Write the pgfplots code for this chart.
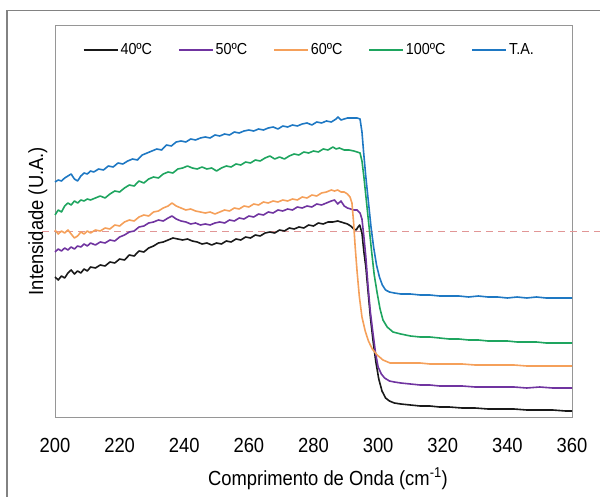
\documentclass[border=0pt]{standalone}
\usepackage{fontspec}
\setmainfont{Liberation Sans}[FakeStretch=0.9]
\usepackage{pgfplots}
\pgfplotsset{compat=1.18}
\definecolor{axgray}{RGB}{150,150,150}
\definecolor{framegray}{RGB}{130,130,130}
\definecolor{cblack}{RGB}{25,25,25}
\definecolor{cpurple}{RGB}{112,52,160}
\definecolor{corange}{RGB}{245,160,90}
\definecolor{cgreen}{RGB}{30,165,95}
\definecolor{cblue}{RGB}{30,120,195}
\definecolor{dashc}{RGB}{225,150,150}
\begin{document}
\begin{tikzpicture}
\useasboundingbox (0,0) rectangle (600bp,497bp);
\draw[framegray, line width=1.5bp] (7bp,0bp) -- (7bp,486.5bp) -- (600bp,486.5bp);
\begin{axis}[
  at={(55bp,80bp)}, anchor=south west,
  scale only axis, width=517bp, height=391bp,
  xmin=200, xmax=360, ymin=0, ymax=391,
  xtick={200,220,...,360}, ytick=\empty,
  major tick length=0pt,
  axis line style={draw=axgray, line width=1bp},
  clip=false,
  xticklabel style={font=\fontsize{20.5}{24}\selectfont, inner sep=0pt, anchor=north, yshift=-21bp},
  /pgf/number format/assume math mode=true,
  xlabel={Comprimento de Onda (cm\textsuperscript{-1})},
  xlabel style={font=\fontsize{20.5}{24}\selectfont, at={(axis description cs:0.528,-0.174)}, anchor=base, inner sep=0pt},
  ylabel={Intensidade (U.A.)},
  ylabel style={font=\fontsize{20.5}{24}\selectfont, at={(axis description cs:-0.0232,0.501)}, anchor=base, rotate=0, inner sep=0pt},
  legend columns=5,
  legend cell align=left,
  legend style={draw=none, fill=none, at={(axis description cs:0.492,0.9386)}, anchor=center,
    font=\fontsize{16}{19}\selectfont, inner sep=0pt,
    /tikz/every even column/.append style={column sep=24bp}},
  legend image code/.code={\draw[#1, line width=1.6bp] (0bp,0bp) -- (34bp,0bp);},
  every axis plot/.append style={line width=1.6bp, line join=round, no markers},
]
\draw[dashc, line width=0.9bp, dash pattern=on 7bp off 5bp] (axis cs:196,186) -- (axis cs:368.7,186);

\addplot[cblack] coordinates {(200,140) (201,137) (202,141) (203,139) (204,144) (205,147) (206,143) (207,146) (208,144) (209,148) (210,146) (211,150) (212.5,149) (214,152) (215.5,151) (217,155) (218.5,154) (220,158) (221.5,157) (223,162) (224.5,161) (226,166) (227.5,165) (229,169) (230.5,171) (232,174) (233.5,175) (235,177) (236.5,179) (238,178) (239.5,177) (241,178) (242.5,176) (244,175) (245.5,173) (247,174) (248.5,172) (250,174) (251.5,173) (253,176) (254.5,175) (256,178) (257.5,177) (259,180) (260.5,179) (262,182) (263.5,181) (265,184) (266.5,185) (268,184) (269.5,187) (271,186) (272.5,189) (274,188) (275.5,190) (277,189) (278.5,192) (280,191) (281.5,194) (283,193) (284.5,195) (286,195) (287.5,196) (288.5,195) (289.5,194) (290.5,193) (291.5,191) (292.5,188) (293.2,187) (293.8,190) (294.3,192) (295,184) (295.6,165) (296.2,150) (296.9,125) (297.6,100) (298.4,77) (299.3,55) (300.2,38) (301.2,26) (302.3,19) (303.5,16) (305,14) (307,13) (310,12) (313,11) (316,11) (319,10) (322,10) (326,9) (330,9) (334,8) (338,8) (342,8) (346,7) (350,7) (354,7) (358,6) (360,6)};
\addlegendentry{40ºC}

\addplot[cpurple] coordinates {(200,165) (201,168) (202,166) (203,169) (204,167) (205,170) (206,168) (207,171) (208,170) (209,173) (210,171) (211,174) (212.5,172) (214,175) (215.5,174) (217,177) (218.5,176) (220,180) (221.5,182) (223,185) (224.5,186) (226,190) (227.5,191) (229,194) (230.5,195) (232,197) (233.5,196) (235,199) (236.2,201) (237.5,198) (239,196) (240.5,195) (242,193) (243.5,194) (245,192) (246.5,193) (248,192) (249.5,194) (251,195) (252.5,194) (254,197) (255.5,196) (257,199) (258.5,198) (260,201) (261.5,200) (263,203) (264.5,202) (266,205) (267.5,204) (269,207) (270.5,206) (272,208) (273.5,207) (275,210) (276.5,209) (278,211) (279.5,210) (281,213) (282.5,212) (284,214) (285.5,216) (286.5,217) (287.5,213) (288.5,216) (289.5,211) (290.5,209) (291.5,208) (292.5,207) (293.5,207) (294.4,204) (295,198) (295.6,180) (296.2,160) (296.9,130) (297.6,105) (298.4,84) (299.2,64) (300,50) (301,43) (302,39) (303.5,36) (305,35) (307,34) (310,33) (313,32) (316,32) (319,31) (322,31) (326,31) (330,30) (334,30) (338,30) (342,30) (346,29) (350,30) (354,29) (358,29) (360,29)};
\addlegendentry{50ºC}

\addplot[corange] coordinates {(200,187) (201,183) (202,186) (203,184) (204,187) (205,183) (206,179) (207,181) (208,185) (209,183) (210,186) (211,184) (212.5,187) (214,186) (215.5,189) (217,188) (218.5,192) (220,191) (221.5,195) (223,197) (224.5,196) (226,200) (227.5,202) (229,201) (230.5,205) (232,206) (233.5,209) (235,211) (236.2,214) (237.5,211) (239,209) (240.5,207) (242,208) (243.5,206) (245,205) (246.5,204) (248,205) (249.5,203) (251,205) (252.5,207) (254,206) (255.5,209) (257,208) (258.5,211) (260,210) (261.5,213) (263,212) (264.5,215) (266,214) (267.5,216) (269,215) (270.5,217) (272,216) (273.5,218) (275,217) (276.5,220) (278,219) (279.5,222) (281,221) (282.5,224) (284,225) (285.5,227) (286.5,226) (287.5,227) (288.5,225) (289.5,225) (290.5,223) (291.3,220) (291.9,214) (292.4,195) (292.9,170) (293.5,145) (294.2,120) (295,100) (296,86) (297,76) (298.2,68) (299.7,62) (301.5,57) (303.7,54) (306,54) (310,54) (313,54) (316,53) (319,53) (322,53) (326,53) (330,52) (334,52) (338,52) (342,52) (346,51) (350,51) (354,51) (358,51) (360,51)};
\addlegendentry{60ºC}

\addplot[cgreen] coordinates {(200,202) (201,207) (202,205) (203,211) (204,214) (205,212) (206,216) (207,214) (208,217) (209,216) (210,218) (211,217) (212.5,219) (214,221) (215.5,219) (217,223) (218.5,226) (220,225) (221.5,229) (223,232) (224.5,231) (226,236) (227.5,234) (229,238) (230.5,240) (232,239) (233.5,243) (235,245) (236.5,244) (238,248) (239.5,249) (241,251) (242.5,249) (244,248) (245.5,250) (247,248) (248.5,249) (250,246) (251.5,249) (253,251) (254.5,250) (256,253) (257.5,252) (259,255) (260.5,254) (262,257) (263.5,256) (265,259) (266.5,261) (268,258) (269.5,260) (271,258) (272.5,261) (274,263) (275.5,262) (277,265) (278.5,264) (280,266) (281.5,265) (283,268) (284.5,267) (286,270) (287,268) (288,269) (289.5,267) (291,267) (292.5,266) (293.5,265) (294.4,264) (295,256) (295.6,240) (296.4,215) (297.2,190) (298,165) (298.8,142) (299.7,124) (300.6,108) (301.5,97) (302.8,90) (304.6,85) (307,83) (310,81) (313,80) (316,80) (319,79) (322,78) (325,78) (328,77) (331,77) (334,76) (337,76) (340,76) (343,75) (346,75) (349,75) (352,74) (355,74) (358,74) (360,74)};
\addlegendentry{100ºC}

\addplot[cblue] coordinates {(200,235) (201,237) (202,236) (203,239) (204,241) (205,243) (206,238) (207,236) (208,241) (209,244) (210,243) (211,246) (212,245) (213.5,248) (215,247) (216.5,251) (218,250) (219.5,254) (221,253) (222.5,256) (224,258) (225.5,257) (227,262) (228.5,264) (230,266) (231.5,268) (233,267) (234.5,272) (236,271) (237.5,275) (239,276) (240.5,275) (242,278) (243.5,277) (245,279) (246.5,280) (248,279) (249.5,282) (251,281) (252.5,283) (254,282) (255.5,285) (257,284) (258.5,286) (260,287) (261.5,286) (263,288) (264.5,287) (266,289) (267.5,290) (269,288) (270.5,291) (272,290) (273.5,292) (275,291) (276.5,293) (278,294) (279.5,292) (281,295) (282.5,294) (284,296) (285.5,295) (287,298) (287.6,300) (288.5,297) (289.5,298) (290.5,299) (291.5,299) (292.5,299) (293.5,299) (294.4,298) (295.0,285) (295.5,265) (296.2,240) (297,215) (297.8,190) (298.6,170) (299.5,152) (300.4,140) (301.3,132) (302.3,127) (303.5,125) (305,124) (307,123) (310,123) (313,122) (316,122) (319,121) (322,121) (325,121) (328,120) (331,121) (334,120) (337,120) (340,119) (343,120) (346,119) (349,120) (352,119) (355,119) (358,119) (360,119)};
\addlegendentry{T.A.}
\end{axis}
\end{tikzpicture}
\end{document}
